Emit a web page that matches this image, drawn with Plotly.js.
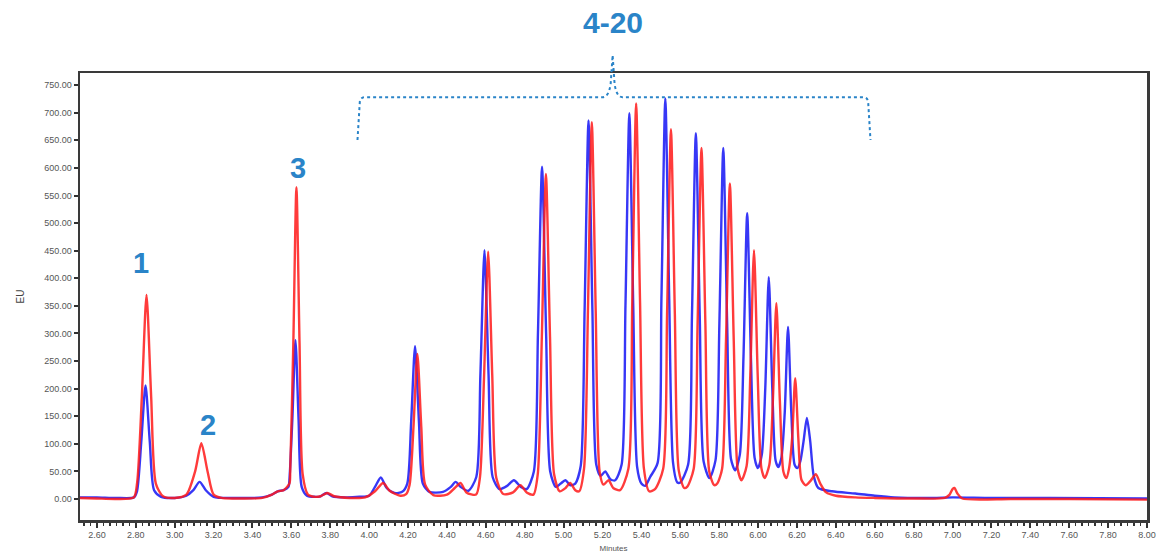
<!DOCTYPE html>
<html>
<head>
<meta charset="utf-8">
<script src="https://cdn.plot.ly/plotly-3.0.1.min.js"></script>
<style>
  html, body { margin: 0; padding: 0; background: #fff; }
  #chart { width: 1161px; height: 553px; }
</style>
</head>
<body>
<div id="chart"></div>
<script>
// Fluorescence chromatograms: [retention time (min), signal (EU)]
const blueTrace = [
  [2.513,3],[2.60,3],[2.70,2],[2.79,3],[2.806,14],[2.828,103],[2.850,206],[2.872,103],[2.894,16],[2.93,4],
  [3.00,2],[3.06,6],[3.096,16],[3.128,31],[3.160,16],[3.20,4],[3.30,2],[3.45,3],[3.50,8],[3.53,14],
  [3.56,16],[3.585,22],[3.589,30],[3.605,144],[3.621,288],[3.637,144],[3.653,22],[3.68,6],[3.72,4],[3.75,5],
  [3.78,11],[3.81,5],[3.88,3],[3.95,4],[4.00,6],[4.03,22],[4.06,39],[4.09,20],[4.13,11],[4.17,13],
  [4.196,28],[4.216,140],[4.236,277],[4.256,140],[4.276,28],[4.31,13],[4.38,13],[4.42,22],[4.445,31],[4.47,22],
  [4.51,15],[4.551,40],[4.572,225],[4.593,451],[4.614,225],[4.635,40],[4.67,18],[4.71,24],[4.744,34],[4.78,22],
  [4.81,18],[4.847,50],[4.868,300],[4.889,602],[4.910,300],[4.931,50],[4.96,22],[4.985,28],[5.009,34],[5.035,25],
  [5.06,28],[5.088,60],[5.108,343],[5.128,686],[5.148,343],[5.168,62],[5.19,42],[5.214,50],[5.24,36],[5.265,34],
  [5.298,62],[5.318,350],[5.338,699],[5.358,350],[5.378,58],[5.40,28],[5.42,24],[5.445,40],[5.483,65],[5.503,363],
  [5.523,726],[5.543,363],[5.563,65],[5.585,30],[5.60,30],[5.640,62],[5.660,332],[5.680,663],[5.700,332],[5.720,68],
  [5.75,38],[5.781,70],[5.801,318],[5.821,636],[5.841,318],[5.861,72],[5.882,52],[5.906,80],[5.925,259],[5.944,518],
  [5.963,259],[5.982,75],[5.999,56],[6.019,80],[6.037,201],[6.055,402],[6.073,201],[6.090,70],[6.104,58],[6.120,75],
  [6.137,156],[6.154,312],[6.171,156],[6.188,62],[6.202,56],[6.217,68],[6.234,105],[6.251,147],[6.268,105],[6.286,42],
  [6.31,20],[6.38,14],[6.50,10],[6.60,6],[6.70,3],[6.90,2],[7.00,3],[7.20,2],[7.50,2],[8.00,1]
];

const redTrace = [
  [2.513,2],[2.60,1],[2.70,0],[2.79,3],[2.807,30],[2.831,185],[2.855,370],[2.879,185],[2.903,28],[2.94,5],
  [3.00,2],[3.06,8],[3.105,50],[3.137,101],[3.169,50],[3.20,8],[3.24,2],[3.30,1],[3.45,2],[3.50,8],
  [3.53,14],[3.56,16],[3.59,28],[3.594,50],[3.610,282],[3.626,565],[3.642,282],[3.658,45],[3.685,8],[3.72,4],
  [3.75,5],[3.785,11],[3.82,5],[3.90,2],[3.98,3],[4.03,14],[4.072,29],[4.105,15],[4.16,6],[4.19,9],
  [4.208,26],[4.228,131],[4.248,263],[4.268,131],[4.288,26],[4.33,7],[4.40,8],[4.44,20],[4.47,29],[4.50,12],
  [4.55,8],[4.570,40],[4.591,224],[4.612,448],[4.633,224],[4.654,38],[4.69,9],[4.74,12],[4.778,25],[4.81,12],
  [4.845,8],[4.867,45],[4.888,294],[4.909,589],[4.930,294],[4.951,45],[4.98,14],[5.01,20],[5.034,29],[5.06,16],
  [5.08,14],[5.105,55],[5.125,341],[5.145,683],[5.165,341],[5.185,50],[5.205,26],[5.231,34],[5.255,20],[5.29,16],
  [5.333,55],[5.353,358],[5.373,717],[5.393,358],[5.413,55],[5.44,14],[5.47,18],[5.512,55],[5.532,335],[5.552,670],
  [5.572,335],[5.592,52],[5.62,20],[5.635,22],[5.669,55],[5.689,318],[5.709,636],[5.729,318],[5.749,50],[5.775,25],
  [5.79,28],[5.815,55],[5.835,286],[5.855,572],[5.875,286],[5.895,55],[5.915,34],[5.941,60],[5.960,225],[5.979,451],
  [5.998,225],[6.017,56],[6.034,38],[6.058,62],[6.076,178],[6.094,355],[6.112,178],[6.130,50],[6.145,38],[6.159,55],
  [6.175,110],[6.191,219],[6.207,110],[6.223,35],[6.245,25],[6.27,33],[6.297,45],[6.32,28],[6.35,12],[6.40,6],
  [6.50,3],[6.60,2],[6.80,1],[6.96,2],[6.985,8],[7.00,18],[7.01,20],[7.025,10],[7.05,1],[7.30,0],
  [7.60,0],[8.00,-1]
];

// Peak numbering labels: [text, time (min), signal (EU)]
const peakLabels = [
  ["1", 2.826, 428],
  ["2", 3.171, 134],
  ["3", 3.633, 600]
];

// Group bracket over peaks 4-20: time span and apex
const groupLabel = "4-20";
const groupStart = 3.94;
const groupApex = 5.252;
const groupEnd = 6.578;

const accent = "#2a84c8";

const traces = [
  {
    x: blueTrace.map(p => p[0]),
    y: blueTrace.map(p => p[1]),
    type: "scatter", mode: "lines",
    line: { color: "rgba(20,20,245,0.85)", width: 2.4, shape: "spline", smoothing: 0.7 },
    hoverinfo: "skip"
  },
  {
    x: redTrace.map(p => p[0]),
    y: redTrace.map(p => p[1]),
    type: "scatter", mode: "lines",
    line: { color: "rgba(255,25,25,0.85)", width: 2.4, shape: "spline", smoothing: 0.7 },
    hoverinfo: "skip"
  }
];

const labelFont = { family: "Liberation Sans, Arial, sans-serif", size: 29, color: accent };

const annotations = peakLabels.map(([txt, t, v]) => ({
  x: t, y: v, xref: "x", yref: "y", text: "<b>" + txt + "</b>", showarrow: false,
  xanchor: "center", yanchor: "middle", font: labelFont
}));
annotations.push({
  x: groupApex, y: 1.113, xref: "x", yref: "paper", text: "<b>" + groupLabel + "</b>", showarrow: false,
  xanchor: "center", yanchor: "middle",
  font: { family: "Liberation Sans, Arial, sans-serif", size: 30, color: accent }
});

// bracket path: x in minutes, y in paper units
const yLow = 0.85, yBar = 0.946, yTop = 1.04;
const bracketPath =
  `M ${groupStart} ${yLow} L ${groupStart + 0.012} ${yBar - 0.01} Q ${groupStart + 0.016} ${yBar} ${groupStart + 0.04} ${yBar} ` +
  `L ${groupApex - 0.05} ${yBar} Q ${groupApex - 0.02} ${yBar} ${groupApex - 0.01} ${yBar + 0.03} L ${groupApex} ${yTop} ` +
  `L ${groupApex + 0.01} ${yBar + 0.03} Q ${groupApex + 0.02} ${yBar} ${groupApex + 0.05} ${yBar} ` +
  `L ${groupEnd - 0.04} ${yBar} Q ${groupEnd - 0.016} ${yBar} ${groupEnd - 0.012} ${yBar - 0.01} L ${groupEnd} ${yLow}`;

const tickFont = { family: "Liberation Sans, Arial, sans-serif", size: 9, color: "#555" };

const layout = {
  width: 1161, height: 553,
  margin: { l: 80, r: 14, t: 73, b: 33 },
  paper_bgcolor: "#fff", plot_bgcolor: "#fff",
  showlegend: false,
  xaxis: {
    range: [2.513, 8.0], tick0: 2.6, dtick: 0.2, tickformat: ".2f",
    ticks: "outside", ticklen: 5, tickwidth: 2, tickcolor: "#333",
    minor: { tick0: 2.6, dtick: 0.2 / 6, ticks: "outside", ticklen: 3, tickwidth: 1.5, tickcolor: "#333", showgrid: false },
    showgrid: false, zeroline: false,
    showline: true, linecolor: "#3a3a3a", linewidth: 2.5, mirror: true,
    tickfont: tickFont,
    title: { text: "Minutes", standoff: 6, font: { family: "Liberation Sans, Arial, sans-serif", size: 8, color: "#555" } }
  },
  yaxis: {
    range: [-38, 772], tick0: 0, dtick: 50, tickformat: ".2f",
    ticks: "outside", ticklen: 4, tickwidth: 2, tickcolor: "#333",
    showgrid: false, zeroline: false,
    showline: true, linecolor: "#3a3a3a", linewidth: 2.5, mirror: true,
    tickfont: tickFont,
    title: { text: "EU", standoff: 18, font: { family: "Liberation Sans, Arial, sans-serif", size: 10, color: "#444" } }
  },
  shapes: [
    { type: "path", xref: "x", yref: "paper", path: bracketPath,
      line: { color: accent, width: 2, dash: "dot" } }
  ],
  annotations: annotations
};

Plotly.newPlot("chart", traces, layout, { staticPlot: true, displayModeBar: false });
</script>
</body>
</html>
